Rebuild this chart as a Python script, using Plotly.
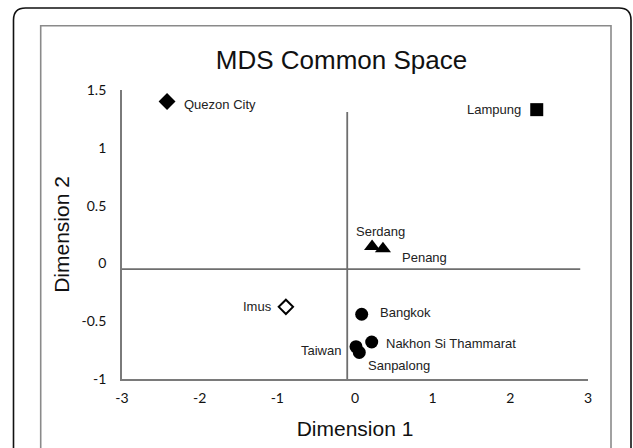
import plotly.graph_objects as go

# ---- data ----
cities = ["Quezon City", "Lampung", "Serdang", "Penang", "Imus",
          "Bangkok", "Nakhon Si Thammarat", "Taiwan", "Sanpalong"]
dim1 = [-2.42, 2.34, 0.22, 0.36, -0.89, 0.086, 0.215, 0.013, 0.055]
dim2 = [1.40, 1.33, 0.146, 0.126, -0.376, -0.44, -0.68, -0.72, -0.77]
symbols = ["diamond", "square", "triangle-up", "triangle-up", "diamond-open",
           "circle", "circle", "circle", "circle"]
x_ticks = [-3, -2, -1, 0, 1, 2, 3]
x_tick_text = ["-3", "-2", "-1", "0", "1", "2", "3"]
y_ticks = [-1, -0.5, 0, 0.5, 1, 1.5]
y_tick_text = ["-1", "-0.5", "0", "0.5", "1", "1.5"]
cross_x = -0.1     # where the drawn vertical axis sits
cross_y = -0.05    # where the drawn horizontal axis sits

# label placement (anchor, xshift, yshift) -- style only
label_pos = {
    "Quezon City": ("left", 15, -3),
    "Lampung": ("right", -14, 0),
    "Serdang": ("center", 8, 15),
    "Penang": ("left", 17, -9),
    "Imus": ("right", -12, 0),
    "Bangkok": ("left", 16, 2),
    "Nakhon Si Thammarat": ("left", 12, -1),
    "Taiwan": ("right", -13, -4),
    "Sanpalong": ("left", 7, -13),
}
sizes = {"diamond": 13, "square": 13, "triangle-up": 14, "diamond-open": 11, "circle": 13}

W, H = 633, 448
L, R, T, B = 122, 588, 90, 379

def px(xp):
    return (xp - L) / (R - L)

def py(yp):
    return (B - yp) / (B - T)

fig = go.Figure()
for c, x, y, s in zip(cities, dim1, dim2, symbols):
    is_open = s.endswith("open")
    fig.add_trace(go.Scatter(
        x=[x], y=[y], mode="markers", name=c, showlegend=False,
        cliponaxis=False,
        marker=dict(symbol=s.replace("-open", ""), size=sizes[s],
                    color="white" if is_open else "black",
                    line=dict(color="black", width=2 if is_open else 0)),
    ))

annotations = []
for c, x, y in zip(cities, dim1, dim2):
    anc, xs, ys = label_pos[c]
    annotations.append(dict(x=x, y=y, xref="x", yref="y", text=c, showarrow=False,
                            xanchor=anc, yanchor="middle", xshift=xs, yshift=ys,
                            font=dict(family="Liberation Sans", size=13, color="#222")))

# outer rounded frame (paper coords, from page pixel positions)
ol, ot, orr, ob, rad = 13.5, 8, 631, 470, 12
outer_path = (f"M {px(ol)} {py(ob)} L {px(ol)} {py(ot+rad)} "
              f"Q {px(ol)} {py(ot)} {px(ol+rad)} {py(ot)} "
              f"L {px(orr-rad)} {py(ot)} Q {px(orr)} {py(ot)} {px(orr)} {py(ot+rad)} "
              f"L {px(orr)} {py(ob)}")
shapes = [
    dict(type="path", xref="paper", yref="paper", path=outer_path,
         line=dict(color="#111", width=1.6), layer="below"),
    dict(type="rect", xref="paper", yref="paper",
         x0=px(40.7), x1=px(611), y0=py(470), y1=py(25.7),
         line=dict(color="#8a8a8a", width=1.6), layer="below"),
    dict(type="line", xref="x", yref="y", x0=-3, x1=2.9, y0=cross_y, y1=cross_y,
         line=dict(color="#6e6e6e", width=1.8), layer="below"),
    dict(type="line", xref="x", yref="y", x0=cross_x, x1=cross_x, y0=-1, y1=1.31,
         line=dict(color="#6e6e6e", width=1.8), layer="below"),
]

fig.update_layout(
    width=W, height=H,
    margin=dict(l=L, r=W - R, t=T, b=H - B),
    paper_bgcolor="white", plot_bgcolor="white",
    title=dict(text="MDS Common Space", x=341.5 / W, y=1 - 60 / H,
               xanchor="center", yanchor="middle",
               font=dict(family="Liberation Sans", size=26, color="#111")),
    xaxis=dict(range=[-3, 3], tickvals=x_ticks, ticktext=x_tick_text,
               showgrid=False, zeroline=False,
               showline=True, linecolor="#7a7a7a", linewidth=1.8,
               ticks="outside", ticklen=5, tickcolor="rgba(0,0,0,0)",
               tickfont=dict(family="Lato", size=14, color="#111"),
               title=dict(text="Dimension 1", standoff=17,
                          font=dict(family="Liberation Sans", size=21, color="#111"))),
    yaxis=dict(range=[-1, 1.5], tickvals=y_ticks, ticktext=y_tick_text,
               showgrid=False, zeroline=False,
               showline=True, linecolor="#7a7a7a", linewidth=1.8,
               ticks="outside", ticklen=11, tickcolor="rgba(0,0,0,0)",
               tickfont=dict(family="Lato", size=14, color="#111"),
               title=dict(text="Dimension 2", standoff=6,
                          font=dict(family="Liberation Sans", size=21, color="#111"))),
    shapes=shapes,
    annotations=annotations,
)

# remove the default page margin so the 633x448 figure fills the window exactly
fig.write_html("out.html",
               config={"displayModeBar": False},
               post_script="document.body.style.margin='0';document.body.style.overflow='hidden';")
